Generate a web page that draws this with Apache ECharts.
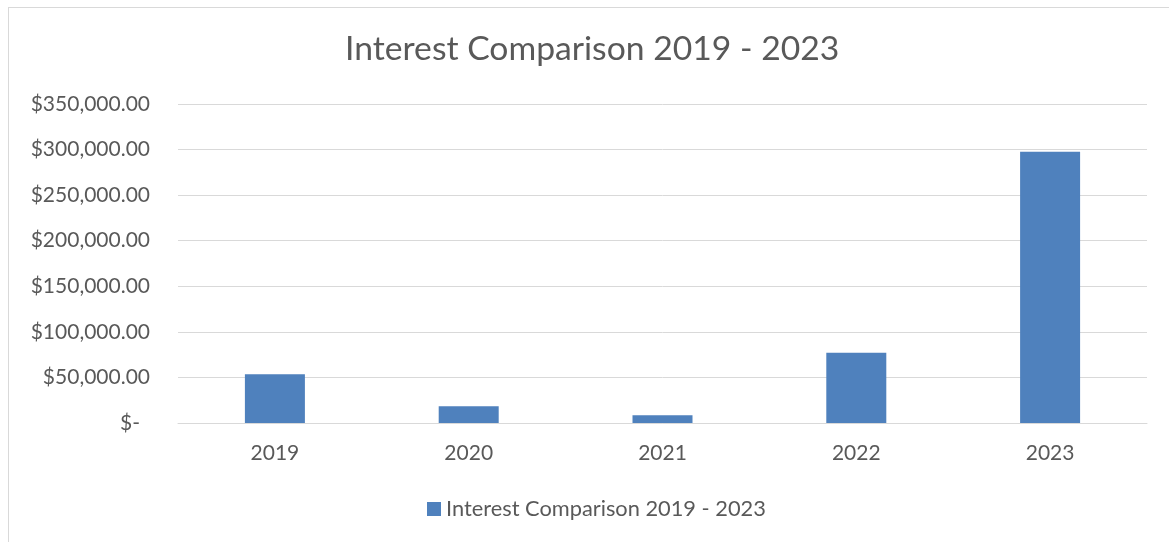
<!DOCTYPE html>
<html>
<head>
<meta charset="utf-8">
<script src="https://cdn.jsdelivr.net/npm/echarts@6/dist/echarts.min.js"></script>
<style>
html,body{margin:0;padding:0;background:#fff;}
#frame{position:absolute;left:8px;top:7px;width:1200px;height:600px;border:1px solid #d9d9d9;box-sizing:border-box;}
#chart{position:absolute;left:0;top:0;width:1169px;height:542px;}
</style>
</head>
<body>
<div id="frame"></div>
<div id="chart"></div>
<script>
const categories = ['2019', '2020', '2021', '2022', '2023'];
const seriesName = 'Interest Comparison 2019 - 2023';
const values = [53500, 18500, 8500, 77000, 297500];
const yTicks = [0, 50000, 100000, 150000, 200000, 250000, 300000, 350000];

const chart = echarts.init(document.getElementById('chart'));
const fontFamily = 'Lato, "Open Sans", sans-serif';
function fmt(v) {
  if (v === 0) return '{z|$-}';
  return '$' + v.toLocaleString('en-US', {minimumFractionDigits: 2, maximumFractionDigits: 2});
}
chart.setOption({
  backgroundColor: 'transparent',
  animation: false,
  title: {
    text: seriesName,
    left: 345,
    top: 32,
    padding: 0,
    textStyle: {fontFamily: fontFamily, fontSize: 33.7, fontWeight: 'normal', color: '#595959'}
  },
  legend: {
    bottom: 22,
    left: 427,
    padding: 0,
    itemWidth: 14,
    itemHeight: 14,
    itemGap: 6,
    icon: 'rect',
    textStyle: {fontFamily: fontFamily, fontSize: 21.8, color: '#595959'},
    data: [seriesName]
  },
  grid: {left: 178, right: 22, top: 104, bottom: 119, containLabel: false},
  xAxis: {
    type: 'category',
    data: categories,
    axisLine: {lineStyle: {color: '#d9d9d9', width: 1}},
    axisTick: {show: false},
    axisLabel: {fontFamily: fontFamily, fontSize: 21, color: '#595959', margin: 20}
  },
  yAxis: {
    type: 'value',
    min: yTicks[0],
    max: yTicks[yTicks.length - 1],
    interval: 50000,
    axisLine: {show: false},
    axisTick: {show: false},
    splitLine: {lineStyle: {color: '#d9d9d9', width: 1}},
    axisLabel: {
      fontFamily: fontFamily, fontSize: 21, color: '#595959', margin: 28,
      formatter: fmt,
      rich: {z: {fontFamily: fontFamily, fontSize: 21, color: '#595959', padding: [0, 10, 0, 0]}}
    }
  },
  series: [{
    name: seriesName,
    type: 'bar',
    data: values,
    barWidth: 60,
    itemStyle: {color: '#4f81bd'}
  }]
});
</script>
</body>
</html>
